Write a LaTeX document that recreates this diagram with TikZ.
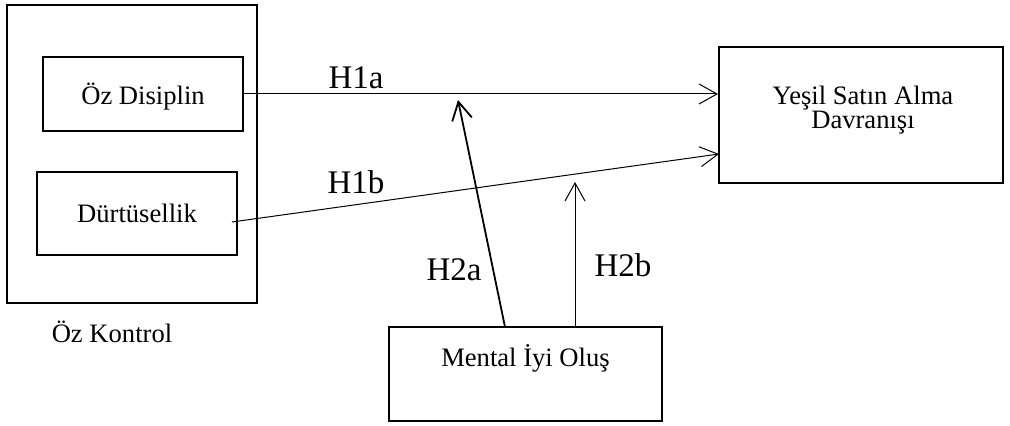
\documentclass[tikz,border=0pt]{standalone}
\usepackage{fontspec}
\setmainfont{Liberation Serif}
\usetikzlibrary{arrows.meta,calc}
\tikzset{
  box/.style={draw, line width=1pt, rectangle, inner sep=0pt},
  inbox/.style={draw, line width=0.6pt, rectangle, inner sep=0pt},
  txt/.style={font=\fontsize{13.3pt}{12pt}\selectfont, inner sep=0pt, anchor=base},
  hlab/.style={font=\fontsize{16.5pt}{16pt}\selectfont, inner sep=0pt, anchor=base},
  arr/.style={line width=0.5pt, -{Straight Barb[length=9pt,width=10pt]}},
  arrb/.style={line width=0.9pt, -{Straight Barb[length=9pt,width=10pt]}}
}
\begin{document}
\begin{tikzpicture}[x=0.5pt,y=-0.5pt]
\useasboundingbox (0,0) rectangle (1010,426);
% boxes
\node[box, minimum width=125pt, minimum height=149pt] (ok) at (132,154) {};
\node[inbox, minimum width=100pt, minimum height=37pt] (ozd) at (143,94) {};
\node[inbox, minimum width=100pt, minimum height=41.5pt] (durt) at (137,213.5) {};
\node[box, minimum width=142pt, minimum height=68pt] (ysa) at (861,115) {};
\node[box, minimum width=136.5pt, minimum height=47pt] (mio) at (525.5,374) {};
% texts
\node[txt] (tozd) at (143,105) {Öz Disiplin};
\node[txt] (tdurt) at (137,223) {Dürtüsellik};
\node[txt] (tok) at (112,343) {Öz Kontrol};
\node[txt] (tysa1) at (863,105) {Yeşil Satın Alma};
\node[txt] (tysa2) at (863,129) {Davranışı};
\node[txt] (tmio) at (525.5,367) {Mental İyi Oluş};
% labels
\node[hlab] (h1a) at (356,89) {H1a};
\node[hlab] (h1b) at (356,194) {H1b};
\node[hlab] (h2a) at (454,281) {H2a};
\node[hlab] (h2b) at (623,277) {H2b};
% connector end points
\coordinate (h1bs) at (232,222);
\coordinate (h1be) at (719,154);
\coordinate (h2as) at (505,327);
\coordinate (h2ae) at (458,100);
\coordinate (h2bs) at (575,327);
\coordinate (h2be) at (575,182);
% connectors
\draw[arr] (ozd.east) -- (ozd.east -| ysa.west);
\draw[arr] (h1bs) -- (h1be);
\draw[arrb] (h2as) -- (h2ae);
\draw[arr] (h2bs) -- (h2be);
\end{tikzpicture}
\end{document}
